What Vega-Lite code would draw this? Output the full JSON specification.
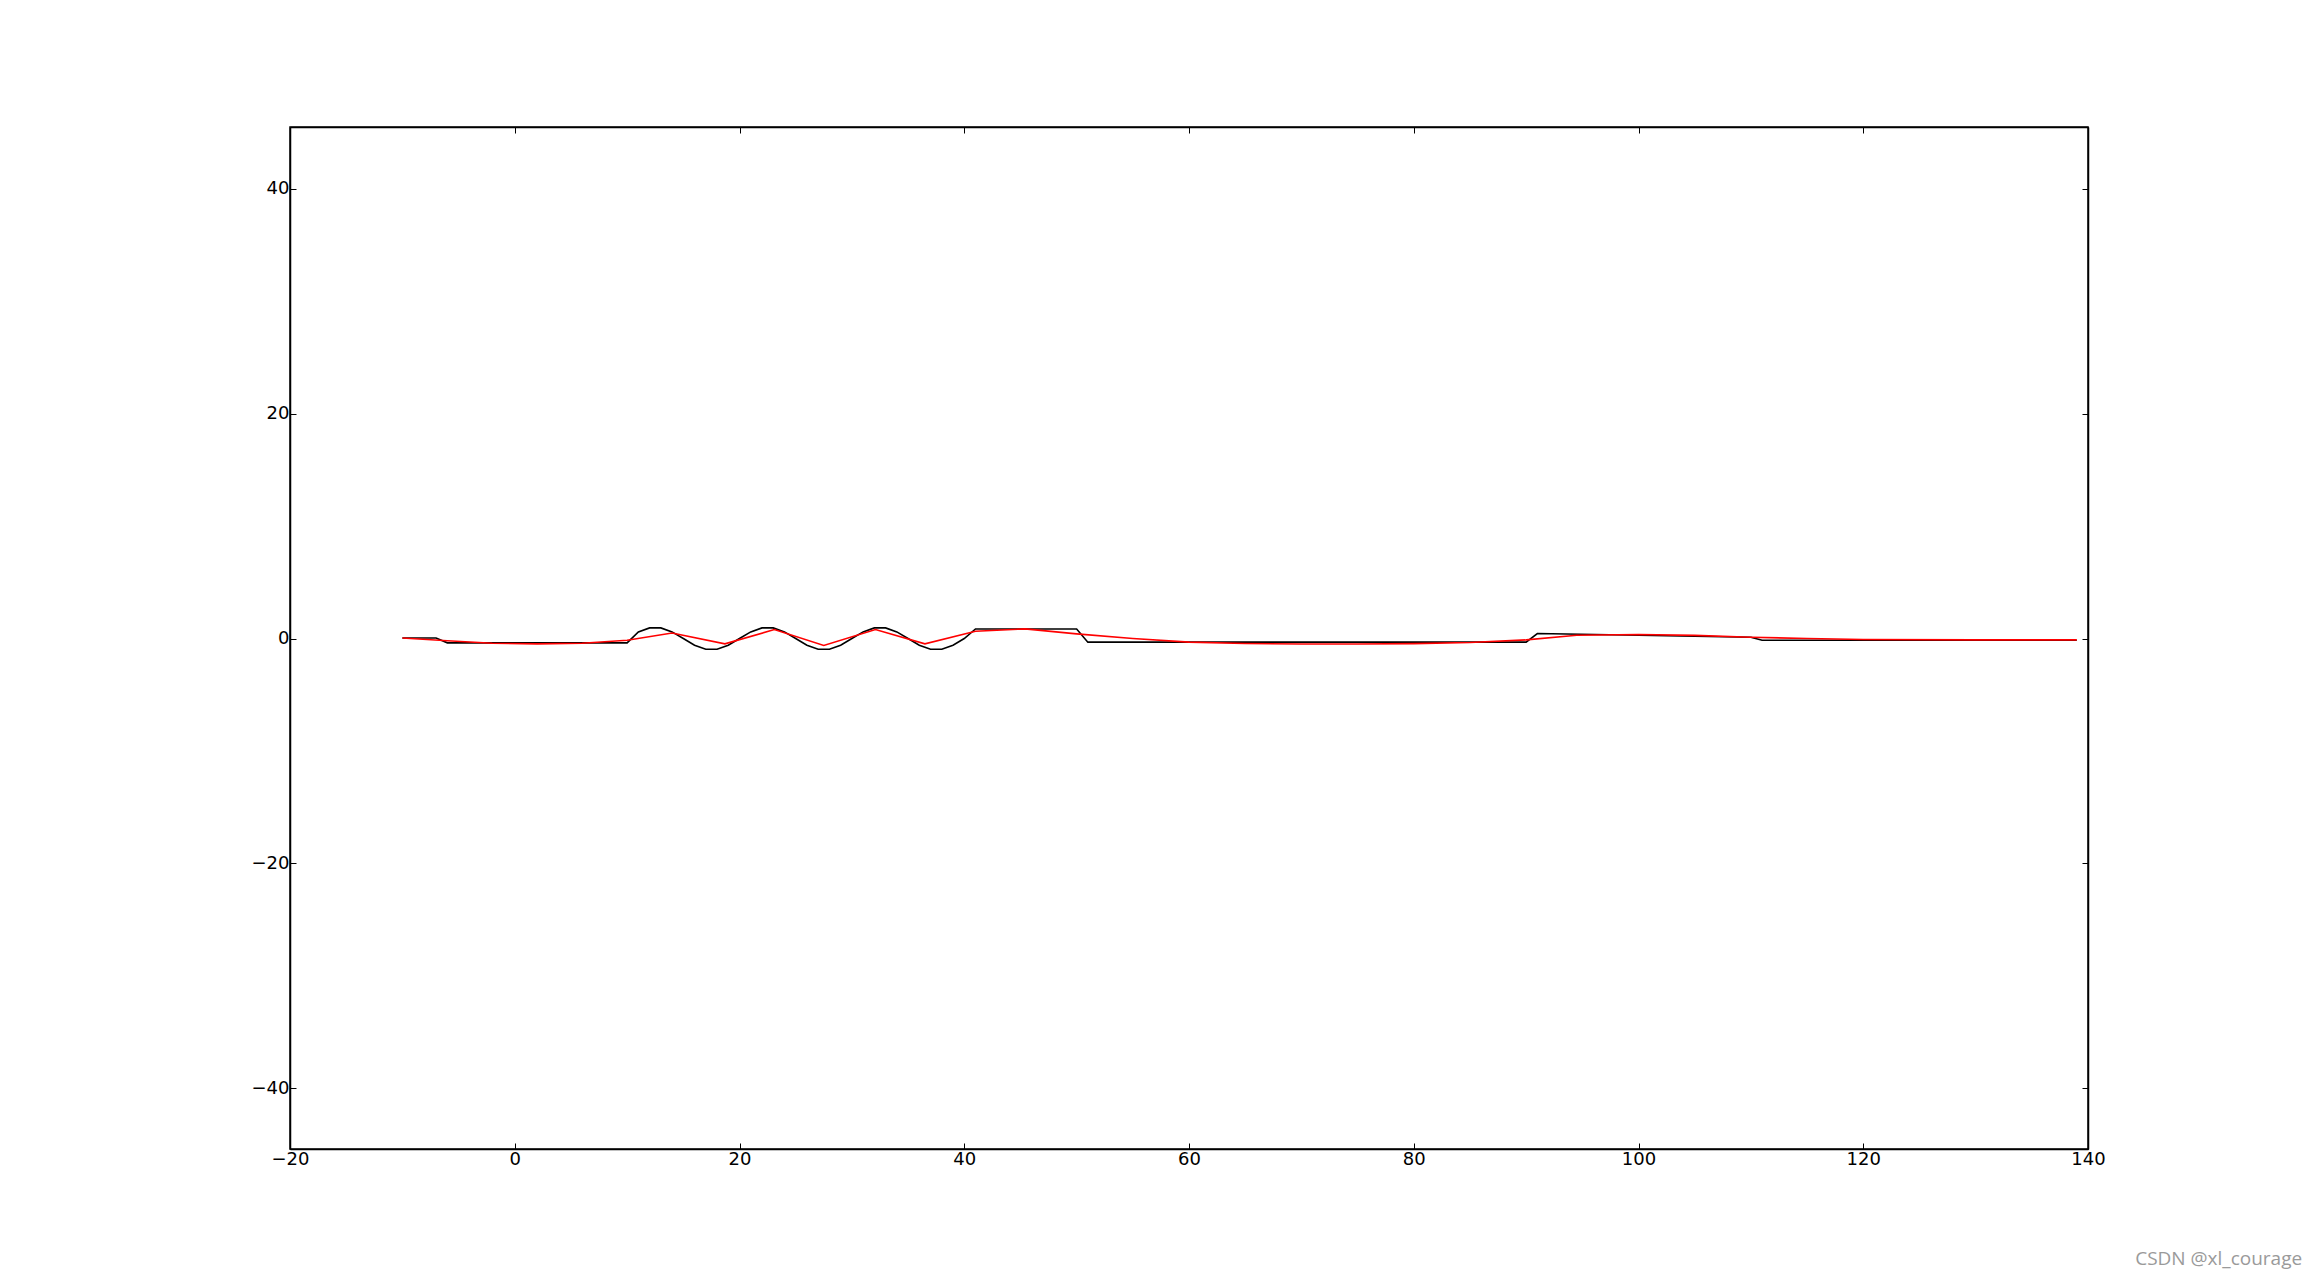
{
  "$schema": "https://vega.github.io/schema/vega-lite/v6.json",
  "autosize": {"type": "none"},
  "padding": {"left": 290, "top": 127, "right": 230, "bottom": 128},
  "width": 1798,
  "height": 1022,
  "background": "white",
  "title": {"text": "CSDN @xl_courage", "orient": "bottom", "anchor": "end", "font": "Open Sans", "fontSize": 19, "fontWeight": "normal", "color": "#9a9a9a", "offset": 82, "dx": 197},
  "config": {
    "view": {"stroke": "black", "strokeWidth": 1.5},
    "axis": {"labelFont": "DejaVu Sans", "labelFontSize": 18, "labelColor": "black", "tickColor": "black", "domainColor": "black", "domainWidth": 1.5, "tickSize": -6, "tickWidth": 1, "grid": false, "title": null, "labelPadding": 7, "labelFlush": false, "labelOverlap": false}
  },
  "datasets": {
    "ref": [
      {"x": -10, "y": 0.05}, {"x": -7, "y": 0.05}, {"x": -6, "y": -0.38}, {"x": 10, "y": -0.38},
      {"x": 11, "y": 0.59}, {"x": 12, "y": 0.95}, {"x": 13, "y": 0.95}, {"x": 14, "y": 0.59}, {"x": 15, "y": 0},
      {"x": 16, "y": -0.59}, {"x": 17, "y": -0.95}, {"x": 18, "y": -0.95}, {"x": 19, "y": -0.59}, {"x": 20, "y": 0},
      {"x": 21, "y": 0.59}, {"x": 22, "y": 0.95}, {"x": 23, "y": 0.95}, {"x": 24, "y": 0.59}, {"x": 25, "y": 0},
      {"x": 26, "y": -0.59}, {"x": 27, "y": -0.95}, {"x": 28, "y": -0.95}, {"x": 29, "y": -0.59}, {"x": 30, "y": 0},
      {"x": 31, "y": 0.59}, {"x": 32, "y": 0.95}, {"x": 33, "y": 0.95}, {"x": 34, "y": 0.59}, {"x": 35, "y": 0},
      {"x": 36, "y": -0.59}, {"x": 37, "y": -0.95}, {"x": 38, "y": -0.95}, {"x": 39, "y": -0.59}, {"x": 40, "y": 0},
      {"x": 41, "y": 0.85}, {"x": 50, "y": 0.85}, {"x": 51, "y": -0.32}, {"x": 90, "y": -0.32},
      {"x": 91, "y": 0.45}, {"x": 100, "y": 0.3}, {"x": 110, "y": 0.12}, {"x": 111, "y": -0.15}, {"x": 139, "y": -0.15}
    ],
    "fit": [
      {"x": -10, "y": 0.05}, {"x": -6, "y": -0.2}, {"x": -2, "y": -0.42}, {"x": 2, "y": -0.47}, {"x": 6, "y": -0.42},
      {"x": 10, "y": -0.15}, {"x": 14, "y": 0.5}, {"x": 18.7, "y": -0.47}, {"x": 23.1, "y": 0.8}, {"x": 27.5, "y": -0.62},
      {"x": 32.1, "y": 0.8}, {"x": 36.5, "y": -0.47}, {"x": 41, "y": 0.65}, {"x": 45.4, "y": 0.86}, {"x": 50, "y": 0.42},
      {"x": 55, "y": 0.0}, {"x": 60, "y": -0.32}, {"x": 65, "y": -0.44}, {"x": 70, "y": -0.48}, {"x": 75, "y": -0.48},
      {"x": 80, "y": -0.45}, {"x": 85, "y": -0.35}, {"x": 90, "y": -0.12}, {"x": 94.5, "y": 0.3}, {"x": 100, "y": 0.36},
      {"x": 105, "y": 0.28}, {"x": 110, "y": 0.12}, {"x": 115, "y": 0.0}, {"x": 120, "y": -0.08}, {"x": 130, "y": -0.12}, {"x": 139, "y": -0.12}
    ]
  },
  "layer": [
    {
      "data": {"name": "ref"},
      "mark": {"type": "line", "color": "black", "strokeWidth": 1.6, "clip": true},
      "encoding": {
        "x": {"field": "x", "type": "quantitative", "scale": {"domain": [-20, 140], "nice": false, "zero": false}, "axis": {"orient": "bottom", "values": [-20, 0, 20, 40, 60, 80, 100, 120, 140]}},
        "y": {"field": "y", "type": "quantitative", "scale": {"domain": [-45.4, 45.5], "nice": false, "zero": false}, "axis": {"orient": "left", "values": [-40, -20, 0, 20, 40]}}
      }
    },
    {
      "data": {"name": "fit"},
      "mark": {"type": "line", "color": "red", "strokeWidth": 1.6, "clip": true},
      "encoding": {
        "x": {"field": "x", "type": "quantitative", "axis": {"orient": "top", "labels": false, "values": [-20, 0, 20, 40, 60, 80, 100, 120, 140]}},
        "y": {"field": "y", "type": "quantitative", "axis": {"orient": "right", "labels": false, "values": [-40, -20, 0, 20, 40]}}
      }
    }
  ],
  "resolve": {"axis": {"x": "independent", "y": "independent"}}
}
